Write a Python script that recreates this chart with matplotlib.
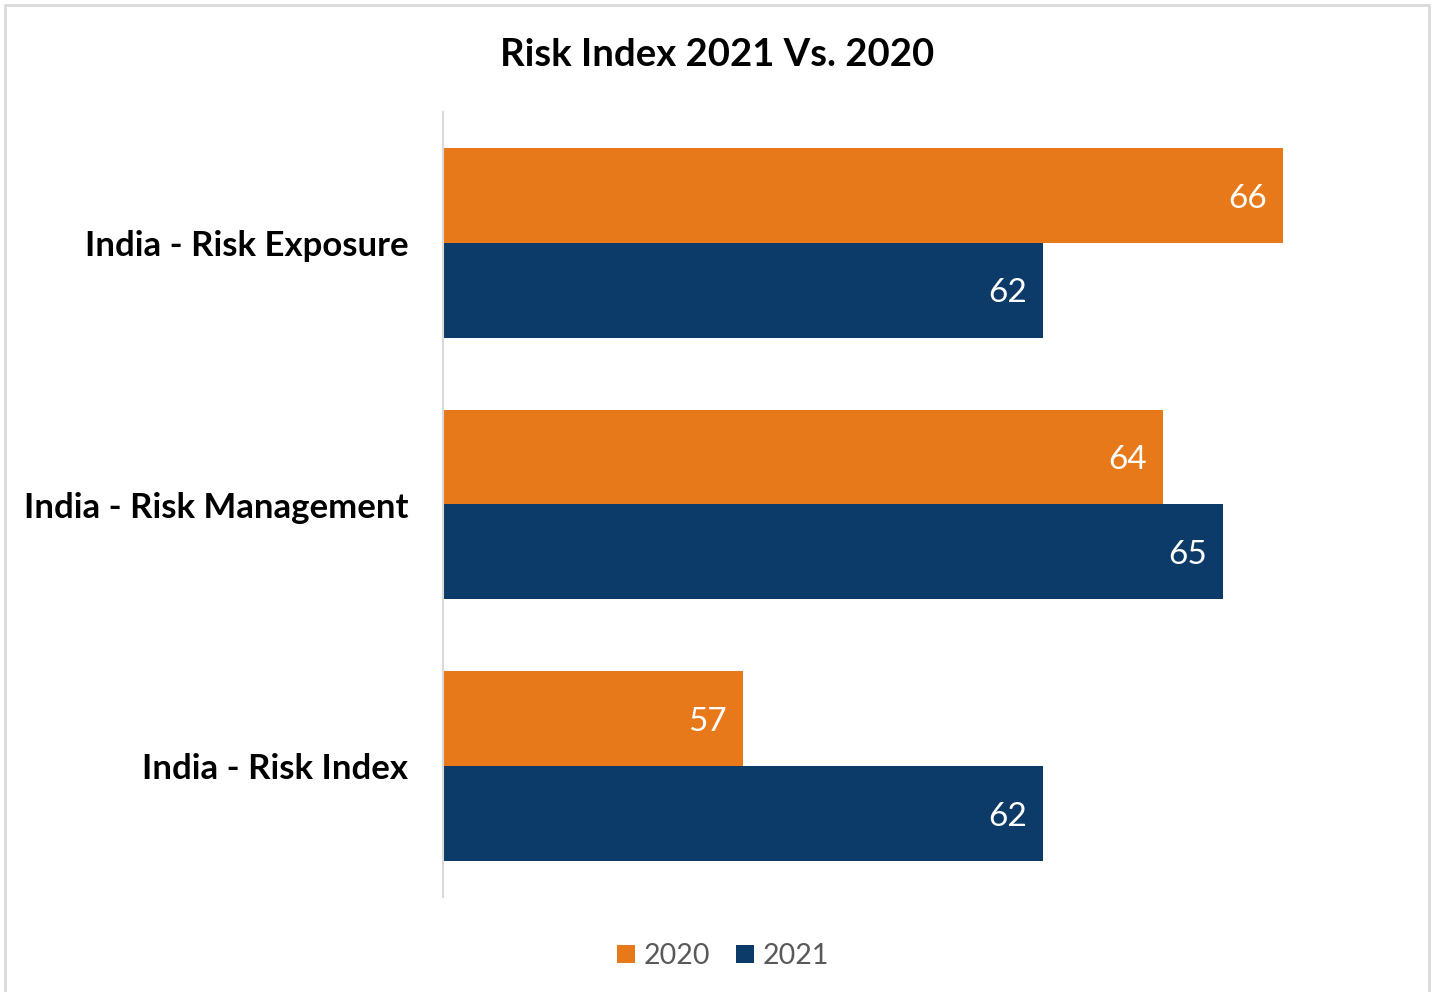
import numpy as np
import matplotlib.pyplot as plt
from matplotlib.patches import Rectangle

plt.rcParams['font.family'] = ['Lato', 'DejaVu Sans']

categories = ["India - Risk Exposure", "India - Risk Management", "India - Risk Index"]
years = ["2020", "2021"]
values_2020 = [66, 64, 57]
values_2021 = [62, 65, 62]
colors = {"2020": "#E8791A", "2021": "#0C3A69"}

fig = plt.figure(figsize=(14.35, 9.92), dpi=100)
ax = fig.add_axes([443 / 1435, 95 / 992, 960 / 1435, 785 / 992])

y = np.arange(len(categories))
h = 0.3626
ax.barh(y - h / 2, values_2020, height=h, color=colors["2020"], label="2020")
ax.barh(y + h / 2, values_2021, height=h, color=colors["2021"], label="2021")

# data labels, inside end of each bar
for yy, v in zip(y - h / 2, values_2020):
    ax.text(v - 0.27, yy + 0.012, str(v), ha="right", va="center", color="white", fontsize=24)
for yy, v in zip(y + h / 2, values_2021):
    ax.text(v - 0.27, yy + 0.012, str(v), ha="right", va="center", color="white", fontsize=24)

ax.set_xlim(52, 68)
ax.set_ylim(2.5, -0.5)
ax.set_yticks(y)
ax.set_yticklabels(categories, fontsize=25, fontweight="bold")
ax.tick_params(axis="y", length=0, pad=25)
ax.set_xticks([])
for s in ["top", "right", "bottom"]:
    ax.spines[s].set_visible(False)
ax.spines["left"].set_color("#D9D9D9")
ax.spines["left"].set_linewidth(1.5)

fig.text(0.5, 1 - 55 / 992, "Risk Index 2021 Vs. 2020", ha="center", va="center",
         fontsize=27.5, fontweight="bold")

leg = fig.legend(loc="center", bbox_to_anchor=(723 / 1435, 1 - 956 / 992), ncol=2,
                 frameon=False, fontsize=20.5, handlelength=0.63, handleheight=0.63,
                 handletextpad=0.3, columnspacing=0.9)
for t in leg.get_texts():
    t.set_color("#595959")

fig.patches.append(Rectangle((5 / 1435, -0.02), 1424 / 1435, 1.0 - 5 / 992 + 0.02,
                             transform=fig.transFigure, fill=False,
                             edgecolor="#D9D9D9", linewidth=2))

fig.savefig("out.png", dpi=100)
